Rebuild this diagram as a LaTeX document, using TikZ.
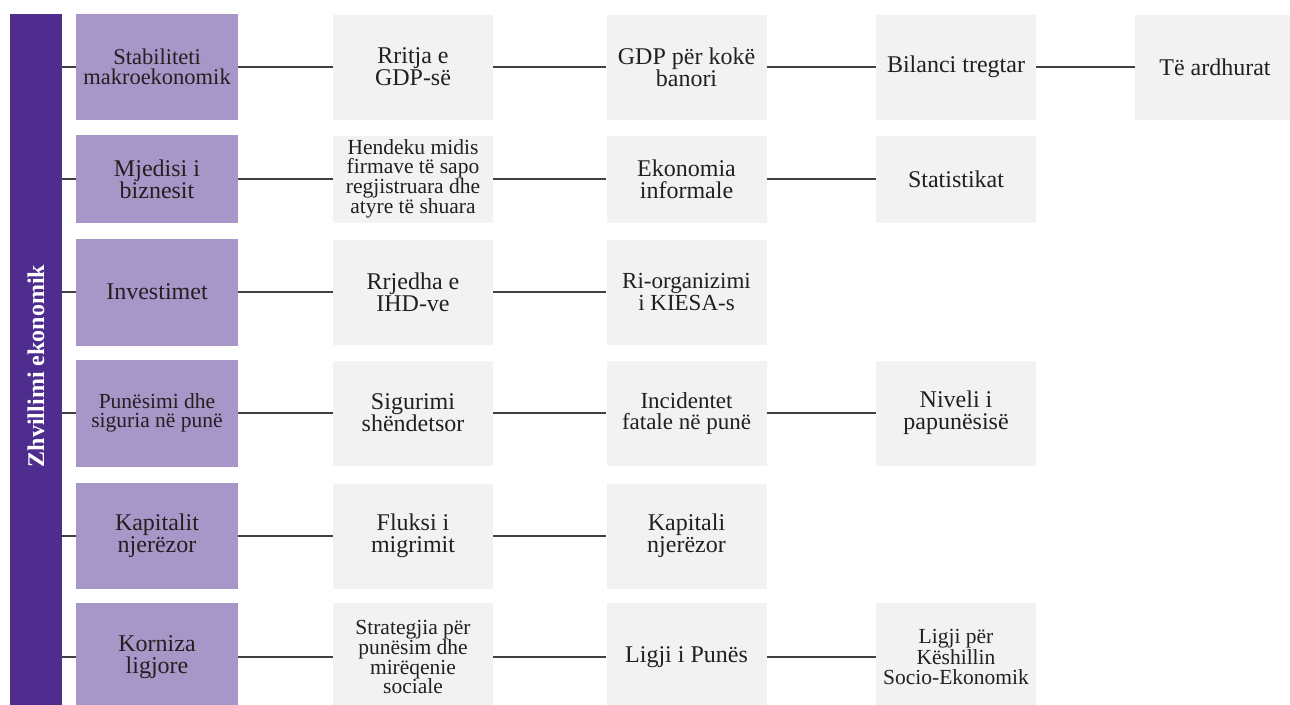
\documentclass[tikz,border=0pt]{standalone}
\usepackage{fontspec}
\setmainfont{Liberation Serif}
\definecolor{barpurple}{RGB}{79,45,142}
\definecolor{boxpurple}{RGB}{167,151,200}
\definecolor{boxgrey}{RGB}{242,242,242}
\definecolor{linegrey}{RGB}{64,64,64}
\definecolor{txt}{RGB}{35,31,32}
\tikzset{
    topic/.style={fill=boxpurple, minimum width=162pt, inner sep=0pt, align=center,
        text=txt, font=\fontsize{24}{22}\selectfont},
    item/.style={fill=boxgrey, minimum width=160pt, inner sep=0pt, align=center,
        text=txt, font=\fontsize{24}{22}\selectfont},
    small/.style={font=\fontsize{21.5}{19.5}\selectfont},
    link/.style={draw=linegrey, line width=1.5pt}
}
\begin{document}
\begin{tikzpicture}[x=1pt, y=-1pt]
        \useasboundingbox (0,0) rectangle (1290,704);

        % Title bar on the left
        \node[fill=barpurple, minimum width=52pt, minimum height=696pt, inner sep=0pt] (bar) at (36,362) {};
        \node[rotate=90, text=white, font=\bfseries\fontsize{24}{22}\selectfont] (title) at (36,366) {Zhvillimi ekonomik};

        % Topics (first column)
        \node[topic, font=\fontsize{22.5}{20}\selectfont, minimum height=106pt] (stab) at (157,67) {Stabiliteti\\makroekonomik};
        \node[topic, minimum height=88pt] (mjed) at (157,179) {Mjedisi i\\biznesit};
        \node[topic, minimum height=107pt] (inv) at (157,292) {Investimet};
        \node[topic, small, minimum height=107pt] (pun) at (157,413) {Punësimi dhe\\siguria në punë};
        \node[topic, minimum height=106pt] (kap) at (157,536) {Kapitalit\\njerëzor};
        \node[topic, minimum height=108pt] (korn) at (157,657) {Korniza\\ligjore};

        % Row 1
        \node[item, minimum height=105pt] (rritja) at (413,67) {Rritja e\\GDP-së};
        \node[item, minimum height=105pt] (gdpkoke) at (686.5,67) {GDP për kokë\\banori};
        \node[item, minimum height=105pt] (bilanci) at (956,67) {Bilanci tregtar};
        \node[item, minimum height=105pt] (ardhurat) at (1215,67) {Të ardhurat};

        % Row 2
        \node[item, small, minimum height=87pt] (hendeku) at (413,179) {Hendeku midis\\firmave të sapo\\regjistruara dhe\\atyre të shuara};
        \node[item, minimum height=87pt] (informale) at (686.5,179) {Ekonomia\\informale};
        \node[item, minimum height=87pt] (statistikat) at (956,179) {Statistikat};

        % Row 3
        \node[item, minimum height=105pt] (rrjedha) at (413,292) {Rrjedha e\\IHD-ve};
        \node[item, font=\fontsize{23}{20}\selectfont, minimum height=105pt] (kiesa) at (686.5,292) {Ri-organizimi\\i KIESA-s};

        % Row 4
        \node[item, minimum height=105pt] (sigurimi) at (413,413) {Sigurimi\\shëndetsor};
        \node[item, font=\fontsize{23}{21}\selectfont, minimum height=105pt] (incidentet) at (686.5,413) {Incidentet\\fatale në punë};
        \node[item, minimum height=105pt] (niveli) at (956,413) {Niveli i\\papunësisë};

        % Row 5
        \node[item, minimum height=105pt] (fluksi) at (413,536) {Fluksi i\\migrimit};
        \node[item, minimum height=105pt] (kapitali) at (686.5,536) {Kapitali\\njerëzor};

        % Row 6
        \node[item, small, minimum height=108pt] (strategjia) at (413,657) {Strategjia për\\punësim dhe\\mirëqenie\\sociale};
        \node[item, minimum height=108pt] (ligjipunes) at (686.5,657) {Ligji i Punës};
        \node[item, small, minimum height=108pt] (keshilli) at (956,657) {Ligji për\\Këshillin\\Socio-Ekonomik};

        % Connectors from the bar
        \foreach \t in {stab, mjed, inv, pun, kap, korn}
            \draw[link] (bar.east |- \t) -- (\t);

        % Connectors along the rows
        \foreach \a/\b in {stab/rritja, rritja/gdpkoke, gdpkoke/bilanci, bilanci/ardhurat,
                mjed/hendeku, hendeku/informale, informale/statistikat,
                inv/rrjedha, rrjedha/kiesa,
                pun/sigurimi, sigurimi/incidentet, incidentet/niveli,
                kap/fluksi, fluksi/kapitali,
                korn/strategjia, strategjia/ligjipunes, ligjipunes/keshilli}
            \draw[link] (\a) -- (\b);
    \end{tikzpicture}
\end{document}
